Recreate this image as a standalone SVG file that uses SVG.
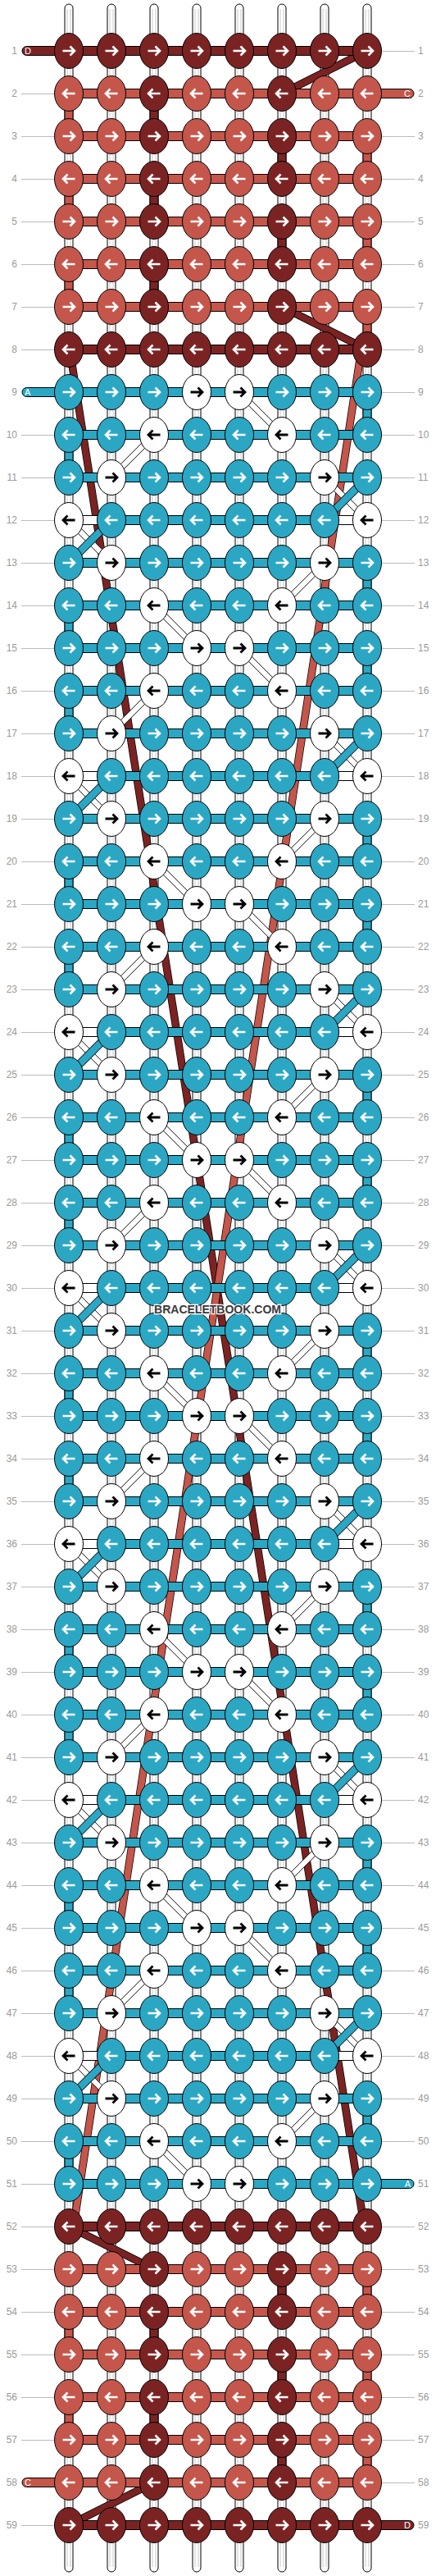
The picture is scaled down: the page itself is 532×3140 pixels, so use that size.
<svg xmlns="http://www.w3.org/2000/svg" width="532" height="3140" viewBox="0 0 532 3140">
<style>
.kD{fill:#7b2323;stroke:#000;stroke-width:1}
.kC{fill:#c5564b;stroke:#000;stroke-width:1}
.kT{fill:#2ba7c4;stroke:#000;stroke-width:1}
.kW{fill:#fff;stroke:#000;stroke-width:1}
.aw{fill:none;stroke:#fff;stroke-width:2.6}
.ab{fill:none;stroke:#000;stroke-width:2.8}
.bD{fill:#7b2323;stroke:#000;stroke-width:1}
.bC{fill:#c5564b;stroke:#000;stroke-width:1}
.bT{fill:#2ba7c4;stroke:#000;stroke-width:1}
.bW{fill:#fff;stroke:#000;stroke-width:1}
.tube{fill:#fff;stroke:#000;stroke-width:1}
.tl{fill:none;stroke:#c8c8c8;stroke-width:1}
.lab{font-family:"Liberation Sans",Arial,sans-serif;font-size:12px;fill:#9a9a9a}
.ln{fill:none;stroke:#bbb;stroke-width:1}
.tab{font-family:"Liberation Sans",Arial,sans-serif;font-size:11px;fill:#fff}
.o9{fill:none;stroke:#000;stroke-width:9.5}
.iD{fill:none;stroke:#7b2323;stroke-width:8}
.iC{fill:none;stroke:#c5564b;stroke-width:8}
.oT{fill:none;stroke:#000;stroke-width:10}
.iT{fill:none;stroke:#2ba7c4;stroke-width:8.4}
.oW{fill:none;stroke:#000;stroke-width:7.5}
.iW{fill:none;stroke:#fff;stroke-width:6.2}
.wm{font-family:"Liberation Sans",Arial,sans-serif;font-weight:bold;font-size:15px;fill:#3a3a3a;stroke:#fff;stroke-width:2.5;paint-order:stroke}
</style>
<defs>
<ellipse id="E" rx="17.5" ry="21.5"/>
<path id="AR" d="M-7.5,0H6.5M1.5,-5.5L7,0L1.5,5.5"/>
<path id="AL" d="M7.5,0H-6.5M-1.5,-5.5L-7,0L-1.5,5.5"/>
<g id="dR"><use href="#E" class="kD"/><use href="#AR" class="aw"/></g>
<g id="dL"><use href="#E" class="kD"/><use href="#AL" class="aw"/></g>
<g id="cR"><use href="#E" class="kC"/><use href="#AR" class="aw"/></g>
<g id="cL"><use href="#E" class="kC"/><use href="#AL" class="aw"/></g>
<g id="tR"><use href="#E" class="kT"/><use href="#AR" class="aw"/></g>
<g id="tL"><use href="#E" class="kT"/><use href="#AL" class="aw"/></g>
<g id="wR"><use href="#E" class="kW"/><use href="#AR" class="ab"/></g>
<g id="wL"><use href="#E" class="kW"/><use href="#AL" class="ab"/></g>
<path id="WD" d="M292,478L344,530M188,530L136,582M396,582L448,634M84,634L136,686M396,686L344,738M188,738L240,790M292,790L344,842M188,842L136,894M396,894L448,946M84,946L136,998M396,998L344,1050M188,1050L240,1102M292,1102L344,1154M188,1154L136,1206M396,1206L448,1258M84,1258L136,1310M396,1310L344,1362M188,1362L240,1414M292,1414L344,1466M188,1466L136,1518M396,1518L448,1570M84,1570L136,1622M396,1622L344,1674M188,1674L240,1726M292,1726L344,1778M188,1778L136,1830M396,1830L448,1882M84,1882L136,1934M396,1934L344,1986M188,1986L240,2038M292,2038L344,2090M188,2090L136,2142M396,2142L448,2194M84,2194L136,2246M396,2246L344,2298M188,2298L240,2350M292,2350L344,2402M188,2402L136,2454M396,2454L448,2506M84,2506L136,2558M396,2558L344,2610M188,2610L240,2662"/>
<path id="TD" d="M136,634L84,686M136,946L84,998M136,1258L84,1310M136,1570L84,1622M136,1882L84,1934M136,2194L84,2246M136,2506L84,2558M448,582L396,634M448,894L396,946M448,1206L396,1258M448,1518L396,1570M448,1830L396,1882M448,2142L396,2194M448,2454L396,2506"/>
<path id="SD" d="M448,62L344,114M344,374L448,426M84,2714L188,2766M188,3026L84,3078"/>
</defs>

<g id="strings">
<rect class="tube" x="79" y="5" width="10" height="3130" rx="5"/>
<rect class="tube" x="131" y="5" width="10" height="3130" rx="5"/>
<rect class="tube" x="183" y="5" width="10" height="3130" rx="5"/>
<rect class="tube" x="235" y="5" width="10" height="3130" rx="5"/>
<rect class="tube" x="287" y="5" width="10" height="3130" rx="5"/>
<rect class="tube" x="339" y="5" width="10" height="3130" rx="5"/>
<rect class="tube" x="391" y="5" width="10" height="3130" rx="5"/>
<rect class="tube" x="443" y="5" width="10" height="3130" rx="5"/>
<path class="tl" d="M82,11V3129M86,11V3129M134,11V3129M138,11V3129M186,11V3129M190,11V3129M238,11V3129M242,11V3129M290,11V3129M294,11V3129M342,11V3129M346,11V3129M394,11V3129M398,11V3129M446,11V3129M450,11V3129"/>
</g>

<g id="connectors">
<path class="bT" d="M79,545h10v22h-10zM79,753h10v22h-10zM79,857h10v22h-10zM79,1065h10v22h-10zM79,1169h10v22h-10zM79,1377h10v22h-10zM79,1481h10v22h-10zM79,1689h10v22h-10zM79,1793h10v22h-10zM79,2001h10v22h-10zM79,2105h10v22h-10zM79,2313h10v22h-10zM79,2417h10v22h-10zM79,2625h10v22h-10zM443,493h10v22h-10zM443,701h10v22h-10zM443,805h10v22h-10zM443,1013h10v22h-10zM443,1117h10v22h-10zM443,1325h10v22h-10zM443,1429h10v22h-10zM443,1637h10v22h-10zM443,1741h10v22h-10zM443,1949h10v22h-10zM443,2053h10v22h-10zM443,2261h10v22h-10zM443,2365h10v22h-10zM443,2573h10v22h-10z"/>
<path class="bC" d="M79,129h10v22h-10zM79,233h10v22h-10zM79,337h10v22h-10zM443,181h10v22h-10zM443,285h10v22h-10zM443,389h10v22h-10zM79,2833h10v22h-10zM79,2937h10v22h-10zM443,2781h10v22h-10zM443,2885h10v22h-10zM443,2989h10v22h-10z"/>
<path class="bD" d="M183,129h10v22h-10zM183,233h10v22h-10zM183,337h10v22h-10zM339,181h10v22h-10zM339,285h10v22h-10zM183,2833h10v22h-10zM183,2937h10v22h-10zM339,2781h10v22h-10zM339,2885h10v22h-10zM339,2989h10v22h-10z"/>
<line class="o9" x1="86" y1="432" x2="444" y2="2712"/>
<line class="iD" x1="86" y1="432" x2="444" y2="2712"/>
<line class="o9" x1="440" y1="432" x2="90" y2="2712"/>
<line class="iC" x1="440" y1="432" x2="90" y2="2712"/>
<use href="#WD" class="oW"/>
<use href="#WD" class="iW"/>
<use href="#TD" class="oT"/>
<use href="#TD" class="iT"/>
<use href="#SD" class="o9"/>
<use href="#SD" class="iD"/>
</g>

<g id="labels">
<path class="ln" d="M26,114.5h40M26,166.5h40M26,218.5h40M26,270.5h40M26,322.5h40M26,374.5h40M26,426.5h40M26,530.5h40M26,582.5h40M26,634.5h40M26,686.5h40M26,738.5h40M26,790.5h40M26,842.5h40M26,894.5h40M26,946.5h40M26,998.5h40M26,1050.5h40M26,1102.5h40M26,1154.5h40M26,1206.5h40M26,1258.5h40M26,1310.5h40M26,1362.5h40M26,1414.5h40M26,1466.5h40M26,1518.5h40M26,1570.5h40M26,1622.5h40M26,1674.5h40M26,1726.5h40M26,1778.5h40M26,1830.5h40M26,1882.5h40M26,1934.5h40M26,1986.5h40M26,2038.5h40M26,2090.5h40M26,2142.5h40M26,2194.5h40M26,2246.5h40M26,2298.5h40M26,2350.5h40M26,2402.5h40M26,2454.5h40M26,2506.5h40M26,2558.5h40M26,2610.5h40M26,2662.5h40M26,2714.5h40M26,2766.5h40M26,2818.5h40M26,2870.5h40M26,2922.5h40M26,2974.5h40M26,3078.5h40"/>
<path class="ln" d="M466,62.5h40M466,166.5h40M466,218.5h40M466,270.5h40M466,322.5h40M466,374.5h40M466,426.5h40M466,478.5h40M466,530.5h40M466,582.5h40M466,634.5h40M466,686.5h40M466,738.5h40M466,790.5h40M466,842.5h40M466,894.5h40M466,946.5h40M466,998.5h40M466,1050.5h40M466,1102.5h40M466,1154.5h40M466,1206.5h40M466,1258.5h40M466,1310.5h40M466,1362.5h40M466,1414.5h40M466,1466.5h40M466,1518.5h40M466,1570.5h40M466,1622.5h40M466,1674.5h40M466,1726.5h40M466,1778.5h40M466,1830.5h40M466,1882.5h40M466,1934.5h40M466,1986.5h40M466,2038.5h40M466,2090.5h40M466,2142.5h40M466,2194.5h40M466,2246.5h40M466,2298.5h40M466,2350.5h40M466,2402.5h40M466,2454.5h40M466,2506.5h40M466,2558.5h40M466,2610.5h40M466,2714.5h40M466,2766.5h40M466,2818.5h40M466,2870.5h40M466,2922.5h40M466,2974.5h40M466,3026.5h40"/>
<g class="lab" text-anchor="end">
<text x="21" y="66">1</text><text x="21" y="118">2</text><text x="21" y="170">3</text><text x="21" y="222">4</text><text x="21" y="274">5</text><text x="21" y="326">6</text><text x="21" y="378">7</text><text x="21" y="430">8</text><text x="21" y="482">9</text><text x="21" y="534">10</text><text x="21" y="586">11</text><text x="21" y="638">12</text><text x="21" y="690">13</text><text x="21" y="742">14</text><text x="21" y="794">15</text><text x="21" y="846">16</text><text x="21" y="898">17</text><text x="21" y="950">18</text><text x="21" y="1002">19</text><text x="21" y="1054">20</text><text x="21" y="1106">21</text><text x="21" y="1158">22</text><text x="21" y="1210">23</text><text x="21" y="1262">24</text><text x="21" y="1314">25</text><text x="21" y="1366">26</text><text x="21" y="1418">27</text><text x="21" y="1470">28</text><text x="21" y="1522">29</text><text x="21" y="1574">30</text><text x="21" y="1626">31</text><text x="21" y="1678">32</text><text x="21" y="1730">33</text><text x="21" y="1782">34</text><text x="21" y="1834">35</text><text x="21" y="1886">36</text><text x="21" y="1938">37</text><text x="21" y="1990">38</text><text x="21" y="2042">39</text><text x="21" y="2094">40</text><text x="21" y="2146">41</text><text x="21" y="2198">42</text><text x="21" y="2250">43</text><text x="21" y="2302">44</text><text x="21" y="2354">45</text><text x="21" y="2406">46</text><text x="21" y="2458">47</text><text x="21" y="2510">48</text><text x="21" y="2562">49</text><text x="21" y="2614">50</text><text x="21" y="2666">51</text><text x="21" y="2718">52</text><text x="21" y="2770">53</text><text x="21" y="2822">54</text><text x="21" y="2874">55</text><text x="21" y="2926">56</text><text x="21" y="2978">57</text><text x="21" y="3030">58</text><text x="21" y="3082">59</text>
</g>
<g class="lab">
<text x="510" y="66">1</text><text x="510" y="118">2</text><text x="510" y="170">3</text><text x="510" y="222">4</text><text x="510" y="274">5</text><text x="510" y="326">6</text><text x="510" y="378">7</text><text x="510" y="430">8</text><text x="510" y="482">9</text><text x="510" y="534">10</text><text x="510" y="586">11</text><text x="510" y="638">12</text><text x="510" y="690">13</text><text x="510" y="742">14</text><text x="510" y="794">15</text><text x="510" y="846">16</text><text x="510" y="898">17</text><text x="510" y="950">18</text><text x="510" y="1002">19</text><text x="510" y="1054">20</text><text x="510" y="1106">21</text><text x="510" y="1158">22</text><text x="510" y="1210">23</text><text x="510" y="1262">24</text><text x="510" y="1314">25</text><text x="510" y="1366">26</text><text x="510" y="1418">27</text><text x="510" y="1470">28</text><text x="510" y="1522">29</text><text x="510" y="1574">30</text><text x="510" y="1626">31</text><text x="510" y="1678">32</text><text x="510" y="1730">33</text><text x="510" y="1782">34</text><text x="510" y="1834">35</text><text x="510" y="1886">36</text><text x="510" y="1938">37</text><text x="510" y="1990">38</text><text x="510" y="2042">39</text><text x="510" y="2094">40</text><text x="510" y="2146">41</text><text x="510" y="2198">42</text><text x="510" y="2250">43</text><text x="510" y="2302">44</text><text x="510" y="2354">45</text><text x="510" y="2406">46</text><text x="510" y="2458">47</text><text x="510" y="2510">48</text><text x="510" y="2562">49</text><text x="510" y="2614">50</text><text x="510" y="2666">51</text><text x="510" y="2718">52</text><text x="510" y="2770">53</text><text x="510" y="2822">54</text><text x="510" y="2874">55</text><text x="510" y="2926">56</text><text x="510" y="2978">57</text><text x="510" y="3030">58</text><text x="510" y="3082">59</text>
</g>
</g>

<g id="r1" transform="translate(0,62)"><rect class="bD" x="27" y="-5.5" width="421" height="11" rx="5.5"/><text class="tab" x="30" y="4">D</text><use href="#dR" x="84"/><use href="#dR" x="136"/><use href="#dR" x="188"/><use href="#dR" x="240"/><use href="#dR" x="292"/><use href="#dR" x="344"/><use href="#dR" x="396"/><use href="#dR" x="448"/></g>
<g id="r2" transform="translate(0,114)"><rect class="bC" x="84" y="-5.5" width="421" height="11" rx="5.5"/><text class="tab" x="501" y="4" text-anchor="end">C</text><use href="#cL" x="84"/><use href="#cL" x="136"/><use href="#dL" x="188"/><use href="#cL" x="240"/><use href="#cL" x="292"/><use href="#dL" x="344"/><use href="#cL" x="396"/><use href="#cL" x="448"/></g>
<g id="r3" transform="translate(0,166)"><rect class="bC" x="84" y="-5.5" width="364" height="11"/><use href="#cR" x="84"/><use href="#cR" x="136"/><use href="#dR" x="188"/><use href="#cR" x="240"/><use href="#cR" x="292"/><use href="#dR" x="344"/><use href="#cR" x="396"/><use href="#cR" x="448"/></g>
<g id="r4" transform="translate(0,218)"><rect class="bC" x="84" y="-5.5" width="364" height="11"/><use href="#cL" x="84"/><use href="#cL" x="136"/><use href="#dL" x="188"/><use href="#cL" x="240"/><use href="#cL" x="292"/><use href="#dL" x="344"/><use href="#cL" x="396"/><use href="#cL" x="448"/></g>
<g id="r5" transform="translate(0,270)"><rect class="bC" x="84" y="-5.5" width="364" height="11"/><use href="#cR" x="84"/><use href="#cR" x="136"/><use href="#dR" x="188"/><use href="#cR" x="240"/><use href="#cR" x="292"/><use href="#dR" x="344"/><use href="#cR" x="396"/><use href="#cR" x="448"/></g>
<g id="r6" transform="translate(0,322)"><rect class="bC" x="84" y="-5.5" width="364" height="11"/><use href="#cL" x="84"/><use href="#cL" x="136"/><use href="#dL" x="188"/><use href="#cL" x="240"/><use href="#cL" x="292"/><use href="#dL" x="344"/><use href="#cL" x="396"/><use href="#cL" x="448"/></g>
<g id="r7" transform="translate(0,374)"><rect class="bC" x="84" y="-5.5" width="364" height="11"/><use href="#cR" x="84"/><use href="#cR" x="136"/><use href="#dR" x="188"/><use href="#cR" x="240"/><use href="#cR" x="292"/><use href="#dR" x="344"/><use href="#cR" x="396"/><use href="#cR" x="448"/></g>
<g id="r8" transform="translate(0,426)"><rect class="bD" x="84" y="-5.5" width="364" height="11"/><use href="#dL" x="84"/><use href="#dL" x="136"/><use href="#dL" x="188"/><use href="#dL" x="240"/><use href="#dL" x="292"/><use href="#dL" x="344"/><use href="#dL" x="396"/><use href="#dL" x="448"/></g>
<g id="r9" transform="translate(0,478)"><rect class="bT" x="27" y="-5.5" width="421" height="11" rx="5.5"/><text class="tab" x="30" y="4">A</text><use href="#tR" x="84"/><use href="#tR" x="136"/><use href="#tR" x="188"/><use href="#wR" x="240"/><use href="#wR" x="292"/><use href="#tR" x="344"/><use href="#tR" x="396"/><use href="#tR" x="448"/></g>
<g id="r10" transform="translate(0,530)"><rect class="bT" x="84" y="-5.5" width="364" height="11"/><use href="#tL" x="84"/><use href="#tL" x="136"/><use href="#wL" x="188"/><use href="#tL" x="240"/><use href="#tL" x="292"/><use href="#wL" x="344"/><use href="#tL" x="396"/><use href="#tL" x="448"/></g>
<g id="r11" transform="translate(0,582)"><rect class="bT" x="84" y="-5.5" width="364" height="11"/><use href="#tR" x="84"/><use href="#wR" x="136"/><use href="#tR" x="188"/><use href="#tR" x="240"/><use href="#tR" x="292"/><use href="#tR" x="344"/><use href="#wR" x="396"/><use href="#tR" x="448"/></g>
<g id="r12" transform="translate(0,634)"><rect class="bW" x="84" y="-5.5" width="52" height="11"/><rect class="bT" x="136" y="-5.5" width="260" height="11"/><rect class="bW" x="396" y="-5.5" width="52" height="11"/><use href="#wL" x="84"/><use href="#tL" x="136"/><use href="#tL" x="188"/><use href="#tL" x="240"/><use href="#tL" x="292"/><use href="#tL" x="344"/><use href="#tL" x="396"/><use href="#wL" x="448"/></g>
<g id="r13" transform="translate(0,686)"><rect class="bT" x="84" y="-5.5" width="364" height="11"/><use href="#tR" x="84"/><use href="#wR" x="136"/><use href="#tR" x="188"/><use href="#tR" x="240"/><use href="#tR" x="292"/><use href="#tR" x="344"/><use href="#wR" x="396"/><use href="#tR" x="448"/></g>
<g id="r14" transform="translate(0,738)"><rect class="bT" x="84" y="-5.5" width="364" height="11"/><use href="#tL" x="84"/><use href="#tL" x="136"/><use href="#wL" x="188"/><use href="#tL" x="240"/><use href="#tL" x="292"/><use href="#wL" x="344"/><use href="#tL" x="396"/><use href="#tL" x="448"/></g>
<g id="r15" transform="translate(0,790)"><rect class="bT" x="84" y="-5.5" width="364" height="11"/><use href="#tR" x="84"/><use href="#tR" x="136"/><use href="#tR" x="188"/><use href="#wR" x="240"/><use href="#wR" x="292"/><use href="#tR" x="344"/><use href="#tR" x="396"/><use href="#tR" x="448"/></g>
<g id="r16" transform="translate(0,842)"><rect class="bT" x="84" y="-5.5" width="364" height="11"/><use href="#tL" x="84"/><use href="#tL" x="136"/><use href="#wL" x="188"/><use href="#tL" x="240"/><use href="#tL" x="292"/><use href="#wL" x="344"/><use href="#tL" x="396"/><use href="#tL" x="448"/></g>
<g id="r17" transform="translate(0,894)"><rect class="bT" x="84" y="-5.5" width="364" height="11"/><use href="#tR" x="84"/><use href="#wR" x="136"/><use href="#tR" x="188"/><use href="#tR" x="240"/><use href="#tR" x="292"/><use href="#tR" x="344"/><use href="#wR" x="396"/><use href="#tR" x="448"/></g>
<g id="r18" transform="translate(0,946)"><rect class="bW" x="84" y="-5.5" width="52" height="11"/><rect class="bT" x="136" y="-5.5" width="260" height="11"/><rect class="bW" x="396" y="-5.5" width="52" height="11"/><use href="#wL" x="84"/><use href="#tL" x="136"/><use href="#tL" x="188"/><use href="#tL" x="240"/><use href="#tL" x="292"/><use href="#tL" x="344"/><use href="#tL" x="396"/><use href="#wL" x="448"/></g>
<g id="r19" transform="translate(0,998)"><rect class="bT" x="84" y="-5.5" width="364" height="11"/><use href="#tR" x="84"/><use href="#wR" x="136"/><use href="#tR" x="188"/><use href="#tR" x="240"/><use href="#tR" x="292"/><use href="#tR" x="344"/><use href="#wR" x="396"/><use href="#tR" x="448"/></g>
<g id="r20" transform="translate(0,1050)"><rect class="bT" x="84" y="-5.5" width="364" height="11"/><use href="#tL" x="84"/><use href="#tL" x="136"/><use href="#wL" x="188"/><use href="#tL" x="240"/><use href="#tL" x="292"/><use href="#wL" x="344"/><use href="#tL" x="396"/><use href="#tL" x="448"/></g>
<g id="r21" transform="translate(0,1102)"><rect class="bT" x="84" y="-5.5" width="364" height="11"/><use href="#tR" x="84"/><use href="#tR" x="136"/><use href="#tR" x="188"/><use href="#wR" x="240"/><use href="#wR" x="292"/><use href="#tR" x="344"/><use href="#tR" x="396"/><use href="#tR" x="448"/></g>
<g id="r22" transform="translate(0,1154)"><rect class="bT" x="84" y="-5.5" width="364" height="11"/><use href="#tL" x="84"/><use href="#tL" x="136"/><use href="#wL" x="188"/><use href="#tL" x="240"/><use href="#tL" x="292"/><use href="#wL" x="344"/><use href="#tL" x="396"/><use href="#tL" x="448"/></g>
<g id="r23" transform="translate(0,1206)"><rect class="bT" x="84" y="-5.5" width="364" height="11"/><use href="#tR" x="84"/><use href="#wR" x="136"/><use href="#tR" x="188"/><use href="#tR" x="240"/><use href="#tR" x="292"/><use href="#tR" x="344"/><use href="#wR" x="396"/><use href="#tR" x="448"/></g>
<g id="r24" transform="translate(0,1258)"><rect class="bW" x="84" y="-5.5" width="52" height="11"/><rect class="bT" x="136" y="-5.5" width="260" height="11"/><rect class="bW" x="396" y="-5.5" width="52" height="11"/><use href="#wL" x="84"/><use href="#tL" x="136"/><use href="#tL" x="188"/><use href="#tL" x="240"/><use href="#tL" x="292"/><use href="#tL" x="344"/><use href="#tL" x="396"/><use href="#wL" x="448"/></g>
<g id="r25" transform="translate(0,1310)"><rect class="bT" x="84" y="-5.5" width="364" height="11"/><use href="#tR" x="84"/><use href="#wR" x="136"/><use href="#tR" x="188"/><use href="#tR" x="240"/><use href="#tR" x="292"/><use href="#tR" x="344"/><use href="#wR" x="396"/><use href="#tR" x="448"/></g>
<g id="r26" transform="translate(0,1362)"><rect class="bT" x="84" y="-5.5" width="364" height="11"/><use href="#tL" x="84"/><use href="#tL" x="136"/><use href="#wL" x="188"/><use href="#tL" x="240"/><use href="#tL" x="292"/><use href="#wL" x="344"/><use href="#tL" x="396"/><use href="#tL" x="448"/></g>
<g id="r27" transform="translate(0,1414)"><rect class="bT" x="84" y="-5.5" width="364" height="11"/><use href="#tR" x="84"/><use href="#tR" x="136"/><use href="#tR" x="188"/><use href="#wR" x="240"/><use href="#wR" x="292"/><use href="#tR" x="344"/><use href="#tR" x="396"/><use href="#tR" x="448"/></g>
<g id="r28" transform="translate(0,1466)"><rect class="bT" x="84" y="-5.5" width="364" height="11"/><use href="#tL" x="84"/><use href="#tL" x="136"/><use href="#wL" x="188"/><use href="#tL" x="240"/><use href="#tL" x="292"/><use href="#wL" x="344"/><use href="#tL" x="396"/><use href="#tL" x="448"/></g>
<g id="r29" transform="translate(0,1518)"><rect class="bT" x="84" y="-5.5" width="364" height="11"/><use href="#tR" x="84"/><use href="#wR" x="136"/><use href="#tR" x="188"/><use href="#tR" x="240"/><use href="#tR" x="292"/><use href="#tR" x="344"/><use href="#wR" x="396"/><use href="#tR" x="448"/></g>
<g id="r30" transform="translate(0,1570)"><rect class="bW" x="84" y="-5.5" width="52" height="11"/><rect class="bT" x="136" y="-5.5" width="260" height="11"/><rect class="bW" x="396" y="-5.5" width="52" height="11"/><use href="#wL" x="84"/><use href="#tL" x="136"/><use href="#tL" x="188"/><use href="#tL" x="240"/><use href="#tL" x="292"/><use href="#tL" x="344"/><use href="#tL" x="396"/><use href="#wL" x="448"/></g>
<g id="r31" transform="translate(0,1622)"><rect class="bT" x="84" y="-5.5" width="364" height="11"/><use href="#tR" x="84"/><use href="#wR" x="136"/><use href="#tR" x="188"/><use href="#tR" x="240"/><use href="#tR" x="292"/><use href="#tR" x="344"/><use href="#wR" x="396"/><use href="#tR" x="448"/></g>
<g id="r32" transform="translate(0,1674)"><rect class="bT" x="84" y="-5.5" width="364" height="11"/><use href="#tL" x="84"/><use href="#tL" x="136"/><use href="#wL" x="188"/><use href="#tL" x="240"/><use href="#tL" x="292"/><use href="#wL" x="344"/><use href="#tL" x="396"/><use href="#tL" x="448"/></g>
<g id="r33" transform="translate(0,1726)"><rect class="bT" x="84" y="-5.5" width="364" height="11"/><use href="#tR" x="84"/><use href="#tR" x="136"/><use href="#tR" x="188"/><use href="#wR" x="240"/><use href="#wR" x="292"/><use href="#tR" x="344"/><use href="#tR" x="396"/><use href="#tR" x="448"/></g>
<g id="r34" transform="translate(0,1778)"><rect class="bT" x="84" y="-5.5" width="364" height="11"/><use href="#tL" x="84"/><use href="#tL" x="136"/><use href="#wL" x="188"/><use href="#tL" x="240"/><use href="#tL" x="292"/><use href="#wL" x="344"/><use href="#tL" x="396"/><use href="#tL" x="448"/></g>
<g id="r35" transform="translate(0,1830)"><rect class="bT" x="84" y="-5.5" width="364" height="11"/><use href="#tR" x="84"/><use href="#wR" x="136"/><use href="#tR" x="188"/><use href="#tR" x="240"/><use href="#tR" x="292"/><use href="#tR" x="344"/><use href="#wR" x="396"/><use href="#tR" x="448"/></g>
<g id="r36" transform="translate(0,1882)"><rect class="bW" x="84" y="-5.5" width="52" height="11"/><rect class="bT" x="136" y="-5.5" width="260" height="11"/><rect class="bW" x="396" y="-5.5" width="52" height="11"/><use href="#wL" x="84"/><use href="#tL" x="136"/><use href="#tL" x="188"/><use href="#tL" x="240"/><use href="#tL" x="292"/><use href="#tL" x="344"/><use href="#tL" x="396"/><use href="#wL" x="448"/></g>
<g id="r37" transform="translate(0,1934)"><rect class="bT" x="84" y="-5.5" width="364" height="11"/><use href="#tR" x="84"/><use href="#wR" x="136"/><use href="#tR" x="188"/><use href="#tR" x="240"/><use href="#tR" x="292"/><use href="#tR" x="344"/><use href="#wR" x="396"/><use href="#tR" x="448"/></g>
<g id="r38" transform="translate(0,1986)"><rect class="bT" x="84" y="-5.5" width="364" height="11"/><use href="#tL" x="84"/><use href="#tL" x="136"/><use href="#wL" x="188"/><use href="#tL" x="240"/><use href="#tL" x="292"/><use href="#wL" x="344"/><use href="#tL" x="396"/><use href="#tL" x="448"/></g>
<g id="r39" transform="translate(0,2038)"><rect class="bT" x="84" y="-5.5" width="364" height="11"/><use href="#tR" x="84"/><use href="#tR" x="136"/><use href="#tR" x="188"/><use href="#wR" x="240"/><use href="#wR" x="292"/><use href="#tR" x="344"/><use href="#tR" x="396"/><use href="#tR" x="448"/></g>
<g id="r40" transform="translate(0,2090)"><rect class="bT" x="84" y="-5.5" width="364" height="11"/><use href="#tL" x="84"/><use href="#tL" x="136"/><use href="#wL" x="188"/><use href="#tL" x="240"/><use href="#tL" x="292"/><use href="#wL" x="344"/><use href="#tL" x="396"/><use href="#tL" x="448"/></g>
<g id="r41" transform="translate(0,2142)"><rect class="bT" x="84" y="-5.5" width="364" height="11"/><use href="#tR" x="84"/><use href="#wR" x="136"/><use href="#tR" x="188"/><use href="#tR" x="240"/><use href="#tR" x="292"/><use href="#tR" x="344"/><use href="#wR" x="396"/><use href="#tR" x="448"/></g>
<g id="r42" transform="translate(0,2194)"><rect class="bW" x="84" y="-5.5" width="52" height="11"/><rect class="bT" x="136" y="-5.5" width="260" height="11"/><rect class="bW" x="396" y="-5.5" width="52" height="11"/><use href="#wL" x="84"/><use href="#tL" x="136"/><use href="#tL" x="188"/><use href="#tL" x="240"/><use href="#tL" x="292"/><use href="#tL" x="344"/><use href="#tL" x="396"/><use href="#wL" x="448"/></g>
<g id="r43" transform="translate(0,2246)"><rect class="bT" x="84" y="-5.5" width="364" height="11"/><use href="#tR" x="84"/><use href="#wR" x="136"/><use href="#tR" x="188"/><use href="#tR" x="240"/><use href="#tR" x="292"/><use href="#tR" x="344"/><use href="#wR" x="396"/><use href="#tR" x="448"/></g>
<g id="r44" transform="translate(0,2298)"><rect class="bT" x="84" y="-5.5" width="364" height="11"/><use href="#tL" x="84"/><use href="#tL" x="136"/><use href="#wL" x="188"/><use href="#tL" x="240"/><use href="#tL" x="292"/><use href="#wL" x="344"/><use href="#tL" x="396"/><use href="#tL" x="448"/></g>
<g id="r45" transform="translate(0,2350)"><rect class="bT" x="84" y="-5.5" width="364" height="11"/><use href="#tR" x="84"/><use href="#tR" x="136"/><use href="#tR" x="188"/><use href="#wR" x="240"/><use href="#wR" x="292"/><use href="#tR" x="344"/><use href="#tR" x="396"/><use href="#tR" x="448"/></g>
<g id="r46" transform="translate(0,2402)"><rect class="bT" x="84" y="-5.5" width="364" height="11"/><use href="#tL" x="84"/><use href="#tL" x="136"/><use href="#wL" x="188"/><use href="#tL" x="240"/><use href="#tL" x="292"/><use href="#wL" x="344"/><use href="#tL" x="396"/><use href="#tL" x="448"/></g>
<g id="r47" transform="translate(0,2454)"><rect class="bT" x="84" y="-5.5" width="364" height="11"/><use href="#tR" x="84"/><use href="#wR" x="136"/><use href="#tR" x="188"/><use href="#tR" x="240"/><use href="#tR" x="292"/><use href="#tR" x="344"/><use href="#wR" x="396"/><use href="#tR" x="448"/></g>
<g id="r48" transform="translate(0,2506)"><rect class="bW" x="84" y="-5.5" width="52" height="11"/><rect class="bT" x="136" y="-5.5" width="260" height="11"/><rect class="bW" x="396" y="-5.5" width="52" height="11"/><use href="#wL" x="84"/><use href="#tL" x="136"/><use href="#tL" x="188"/><use href="#tL" x="240"/><use href="#tL" x="292"/><use href="#tL" x="344"/><use href="#tL" x="396"/><use href="#wL" x="448"/></g>
<g id="r49" transform="translate(0,2558)"><rect class="bT" x="84" y="-5.5" width="364" height="11"/><use href="#tR" x="84"/><use href="#wR" x="136"/><use href="#tR" x="188"/><use href="#tR" x="240"/><use href="#tR" x="292"/><use href="#tR" x="344"/><use href="#wR" x="396"/><use href="#tR" x="448"/></g>
<g id="r50" transform="translate(0,2610)"><rect class="bT" x="84" y="-5.5" width="364" height="11"/><use href="#tL" x="84"/><use href="#tL" x="136"/><use href="#wL" x="188"/><use href="#tL" x="240"/><use href="#tL" x="292"/><use href="#wL" x="344"/><use href="#tL" x="396"/><use href="#tL" x="448"/></g>
<g id="r51" transform="translate(0,2662)"><rect class="bT" x="84" y="-5.5" width="421" height="11" rx="5.5"/><text class="tab" x="501" y="4" text-anchor="end">A</text><use href="#tR" x="84"/><use href="#tR" x="136"/><use href="#tR" x="188"/><use href="#wR" x="240"/><use href="#wR" x="292"/><use href="#tR" x="344"/><use href="#tR" x="396"/><use href="#tR" x="448"/></g>
<g id="r52" transform="translate(0,2714)"><rect class="bD" x="84" y="-5.5" width="364" height="11"/><use href="#dL" x="84"/><use href="#dL" x="136"/><use href="#dL" x="188"/><use href="#dL" x="240"/><use href="#dL" x="292"/><use href="#dL" x="344"/><use href="#dL" x="396"/><use href="#dL" x="448"/></g>
<g id="r53" transform="translate(0,2766)"><rect class="bC" x="84" y="-5.5" width="364" height="11"/><use href="#cR" x="84"/><use href="#cR" x="136"/><use href="#dR" x="188"/><use href="#cR" x="240"/><use href="#cR" x="292"/><use href="#dR" x="344"/><use href="#cR" x="396"/><use href="#cR" x="448"/></g>
<g id="r54" transform="translate(0,2818)"><rect class="bC" x="84" y="-5.5" width="364" height="11"/><use href="#cL" x="84"/><use href="#cL" x="136"/><use href="#dL" x="188"/><use href="#cL" x="240"/><use href="#cL" x="292"/><use href="#dL" x="344"/><use href="#cL" x="396"/><use href="#cL" x="448"/></g>
<g id="r55" transform="translate(0,2870)"><rect class="bC" x="84" y="-5.5" width="364" height="11"/><use href="#cR" x="84"/><use href="#cR" x="136"/><use href="#dR" x="188"/><use href="#cR" x="240"/><use href="#cR" x="292"/><use href="#dR" x="344"/><use href="#cR" x="396"/><use href="#cR" x="448"/></g>
<g id="r56" transform="translate(0,2922)"><rect class="bC" x="84" y="-5.5" width="364" height="11"/><use href="#cL" x="84"/><use href="#cL" x="136"/><use href="#dL" x="188"/><use href="#cL" x="240"/><use href="#cL" x="292"/><use href="#dL" x="344"/><use href="#cL" x="396"/><use href="#cL" x="448"/></g>
<g id="r57" transform="translate(0,2974)"><rect class="bC" x="84" y="-5.5" width="364" height="11"/><use href="#cR" x="84"/><use href="#cR" x="136"/><use href="#dR" x="188"/><use href="#cR" x="240"/><use href="#cR" x="292"/><use href="#dR" x="344"/><use href="#cR" x="396"/><use href="#cR" x="448"/></g>
<g id="r58" transform="translate(0,3026)"><rect class="bC" x="27" y="-5.5" width="421" height="11" rx="5.5"/><text class="tab" x="30" y="4">C</text><use href="#cL" x="84"/><use href="#cL" x="136"/><use href="#dL" x="188"/><use href="#cL" x="240"/><use href="#cL" x="292"/><use href="#dL" x="344"/><use href="#cL" x="396"/><use href="#cL" x="448"/></g>
<g id="r59" transform="translate(0,3078)"><rect class="bD" x="84" y="-5.5" width="421" height="11" rx="5.5"/><text class="tab" x="501" y="4" text-anchor="end">D</text><use href="#dR" x="84"/><use href="#dR" x="136"/><use href="#dR" x="188"/><use href="#dR" x="240"/><use href="#dR" x="292"/><use href="#dR" x="344"/><use href="#dR" x="396"/><use href="#dR" x="448"/></g>

<text class="wm" x="265.5" y="1601" text-anchor="middle" textLength="155" lengthAdjust="spacingAndGlyphs">BRACELETBOOK.COM</text>
</svg>
